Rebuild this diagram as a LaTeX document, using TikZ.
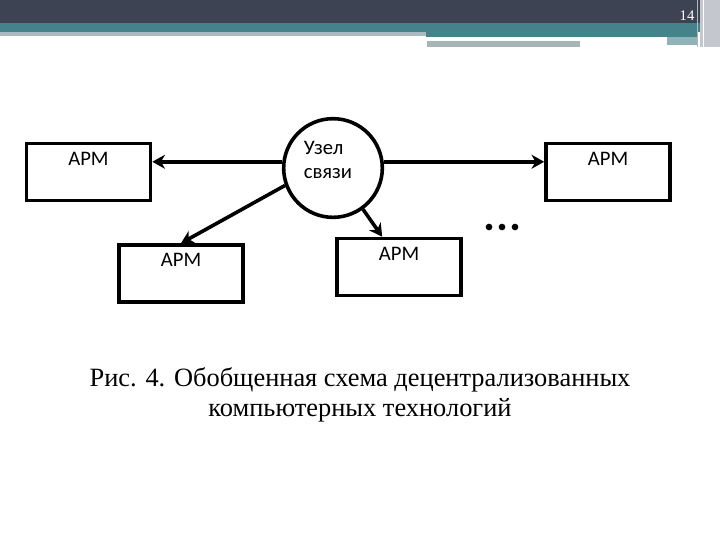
\documentclass[tikz,border=0pt]{standalone}
\usepackage{fontspec}
\setmainfont{Liberation Serif}
\newfontfamily\boxfont{Carlito}
\usetikzlibrary{arrows.meta}
\definecolor{bardark}{HTML}{3E4353}
\definecolor{barteal}{HTML}{45838A}
\definecolor{barlight}{HTML}{A9BBC0}
\definecolor{bargray}{HTML}{A7B5B7}
\definecolor{bargraytwo}{HTML}{8FB3B8}
\definecolor{barside}{HTML}{C5C7CF}
\tikzset{
  armbox/.style={draw, line width=2.7pt, minimum width=93pt, minimum height=42.75pt, inner sep=0pt},
  armtext/.style={anchor=center, yshift=-12.75pt, font=\boxfont\fontsize{15.5}{18}\selectfont, inner sep=0pt},
  nodecircle/.style={draw, circle, line width=2.7pt, minimum size=74pt, inner sep=0pt},
  link/.style={line width=2.7pt, -{Stealth[length=9.5pt, width=10.5pt, inset=3pt]}},
}
\begin{document}
\begin{tikzpicture}[x=0.75pt, y=-0.75pt]
\useasboundingbox (0,0) rectangle (720,540);
\fill[white] (0,0) rectangle (720,540);
% header bar
\fill[bardark] (0,0) rectangle (700,23);
\fill[barteal] (0,23) rectangle (700,32);
\fill[barlight] (0,32) rectangle (426,36);
\fill[barteal] (426,32) rectangle (697,37);
\fill[white] (427,37) rectangle (667,41);
\fill[bargray] (427,41) rectangle (580,47);
\fill[bargraytwo] (667,37) rectangle (697,45);
\fill[barside] (700,0) rectangle (720,47);
\draw[barlight, line width=0.75pt] (697,0) -- (697,47);
\draw[white, line width=0.75pt] (703,0) -- (703,47);
\node[text=white, font=\fontsize{11}{13}\selectfont, inner sep=0pt] (pnum) at (687,16) {14};
% diagram
\node[nodecircle, label={[anchor=center, align=left, xshift=-3.75pt, yshift=6pt, font=\boxfont\fontsize{15.5}{18}\selectfont, inner sep=0pt]center:Узел\\связи}] (c) at (333,168) {};
\node[armbox, label={[armtext]north:АРМ}] (b1) at (88.5,172) {};
\node[armbox, label={[armtext]north:АРМ}] (b2) at (181,273.5) {};
\node[armbox, label={[armtext]north:АРМ}] (b3) at (399,267) {};
\node[armbox, label={[armtext]north:АРМ}] (b4) at (608,172) {};
\draw[link] (c.173) -- (b1.east |- c.173);
\draw[link] (c.7) -- (b4.west |- c.7);
\draw[link] (c.200) -- (b2.north);
\draw[link] (c.306) -- (b3.119.5);
\foreach \dx in {489,502,515} \fill (\dx,227) circle (2.5pt);
\node[align=center, font=\fontsize{19.8}{22.5}\selectfont, inner sep=0pt] (cap) at (360,395) {Рис. 4. Обобщенная схема децентрализованных\\компьютерных технологий};
\end{tikzpicture}
\end{document}
